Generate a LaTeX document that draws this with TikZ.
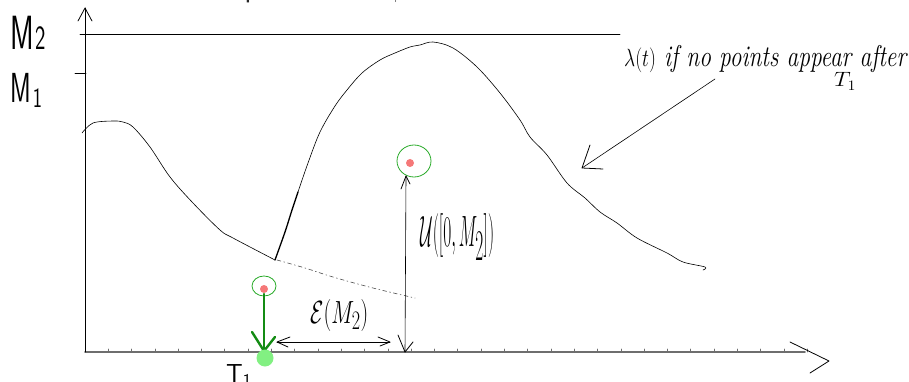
\documentclass[tikz,border=0pt]{standalone}
\usepackage{fontspec}
\usepackage{amssymb}
\newfontfamily\topfont{Liberation Sans}
\usetikzlibrary{shapes.geometric}
\definecolor{ringgreen}{RGB}{40,170,40}
\definecolor{arrowgreen}{RGB}{20,140,20}
\definecolor{dotpink}{RGB}{245,120,120}
\definecolor{dotgreen}{RGB}{130,240,130}
\definecolor{axisgray}{RGB}{110,110,110}
\begin{document}
\begin{tikzpicture}[x=1pt,y=-1pt,line cap=round,line join=round,
  hand/.style={black,line width=0.8pt},
  thinhand/.style={black,line width=0.6pt},
  axisline/.style={axisgray,line width=1.8pt},
  ring/.style={ellipse,draw=ringgreen,line width=0.8pt,inner sep=0pt},
  greenarrow/.style={arrowgreen,line width=2.4pt},
  lbl/.style={inner sep=0pt}]
\useasboundingbox (0,0) rectangle (909,382);
\clip (0,0) rectangle (909,382);

% cut-off title line
\node[lbl,anchor=base east,font=\topfont\fontsize{26}{30}\selectfont,text=black!85] (title) at (410,-2) {Let $N$ be a Poisson process in $\mathbb{R}_+$.};

% axes
\coordinate (O) at (85,352);
\coordinate (ytop) at (85,8);
\coordinate (xend) at (805,352);
\coordinate (xtip) at (829,361);
\draw[axisline] (O) -- (xend);
\foreach \k in {1,...,31} {\draw[axisgray,line width=0.8pt] (85+23.3*\k,352) -- (85+23.3*\k,349);}
\draw[hand] (O) -- (ytop);
\draw[hand] (78,21) -- (ytop) -- (92,21);
\draw[hand] (790,342) -- (xtip) -- (810,373);

% levels
\coordinate (m2a) at (80,34);
\coordinate (m2b) at (620,34);
\draw[hand] (m2a) -- (m2b);
\coordinate (m1a) at (75,73);
\coordinate (m1b) at (86,73);
\draw[hand] (m1a) -- (m1b);
\node[lbl,anchor=base west,font=\sffamily] (M2) at (10,50) {\scalebox{0.6}[1]{\fontsize{48}{50}\selectfont M}\hspace{2pt}\scalebox{0.65}[1]{\fontsize{34}{36}\selectfont 2}};
\node[lbl,anchor=base west,font=\sffamily] (M1) at (10,103) {\scalebox{0.6}[1]{\fontsize{42}{44}\selectfont M}\hspace{2pt}\raisebox{-5pt}{\scalebox{0.7}[1]{\fontsize{28}{30}\selectfont 1}}};

% intensity before T1
\draw[thinhand] plot[smooth,tension=0.55] coordinates {(82,133) (93,123) (113,121) (123,122) (133,127) (150,147) (170,177) (193,203) (220,230) (233,238) (275,260)};
\draw[black!70,line width=0.6pt,dash pattern=on 4pt off 3pt on 1pt off 3pt] plot[smooth,tension=0.6] coordinates {(277,260) (305,268) (333,277) (373,288) (415,298)};

% intensity after T1
\draw[black,line width=1.3pt] plot[smooth] coordinates {(275,260) (285,232) (292,210) (298,192)};
\draw[thinhand] plot[smooth,tension=0.55] coordinates {(298,192) (308,163) (320,132) (335,106) (347,90) (362,73) (380,60) (395,53) (410,47) (420,45) (433,42) (453,48) (477,67) (500,93) (520,120) (530,137) (547,155) (567,183) (585,198) (600,212) (617,223) (637,238) (667,253) (683,262) (705,267) (703,270)};

% annotation
\node[lbl,anchor=base west,font=\itshape\fontsize{30}{32}\selectfont] (annot) at (624,67) {\resizebox{282pt}{\height}{$\lambda(t)$ if no points appear after}};
\node[lbl,anchor=base west,font=\itshape\fontsize{20}{22}\selectfont] (annotT) at (834,87) {\resizebox{22pt}{\height}{$T_1$}};
\coordinate (aS) at (715,79);
\coordinate (aT) at (582,168);
\draw[thinhand] (aS) -- (aT);
\draw[hand] (590,145) -- (aT) -- (603,169);

% first point T1
\node[ring,minimum width=24pt,minimum height=20pt] (r1) at (264,286) {};
\fill[dotpink] (264,289) circle[radius=4pt];
\coordinate (g1) at (264,294);
\coordinate (g2) at (264,351);
\draw[greenarrow] (g1) -- (g2);
\draw[greenarrow] (252,332) -- (g2) -- (275,337);
\fill[dotgreen] (265,358) circle[radius=8.5pt];
\node[lbl,anchor=base west,font=\sffamily\fontsize{26}{28}\selectfont] (T1) at (226,382) {T\raisebox{-4pt}{\fontsize{18}{20}\selectfont 1}};

% second candidate point
\node[ring,minimum width=34pt,minimum height=32pt] (r2) at (414,161) {};
\fill[dotpink] (410,163) circle[radius=4pt];
\coordinate (u1) at (406,176);
\coordinate (u2) at (405,352);
\draw[thinhand] (u1) -- (u2);
\draw[hand] (401,189) -- (u1) -- (410,184);
\draw[hand] (398,335) -- (u2) -- (413,342);
\node[lbl,anchor=west,font=\fontsize{34}{36}\selectfont] (U) at (420,237) {\resizebox*{74pt}{46pt}{$\mathcal{U}([0,M_2])$}};

% exponential gap
\coordinate (e1) at (277,342);
\coordinate (e2) at (390,342);
\draw[thinhand] (e1) -- (e2);
\draw[hand] (290,337) -- (e1) -- (288,347);
\draw[hand] (378,337) -- (e2) -- (380,346);
\node[lbl,anchor=west,font=\fontsize{30}{32}\selectfont] (E) at (310,315) {\resizebox*{58pt}{32pt}{$\mathcal{E}(M_2)$}};
\end{tikzpicture}
\end{document}
